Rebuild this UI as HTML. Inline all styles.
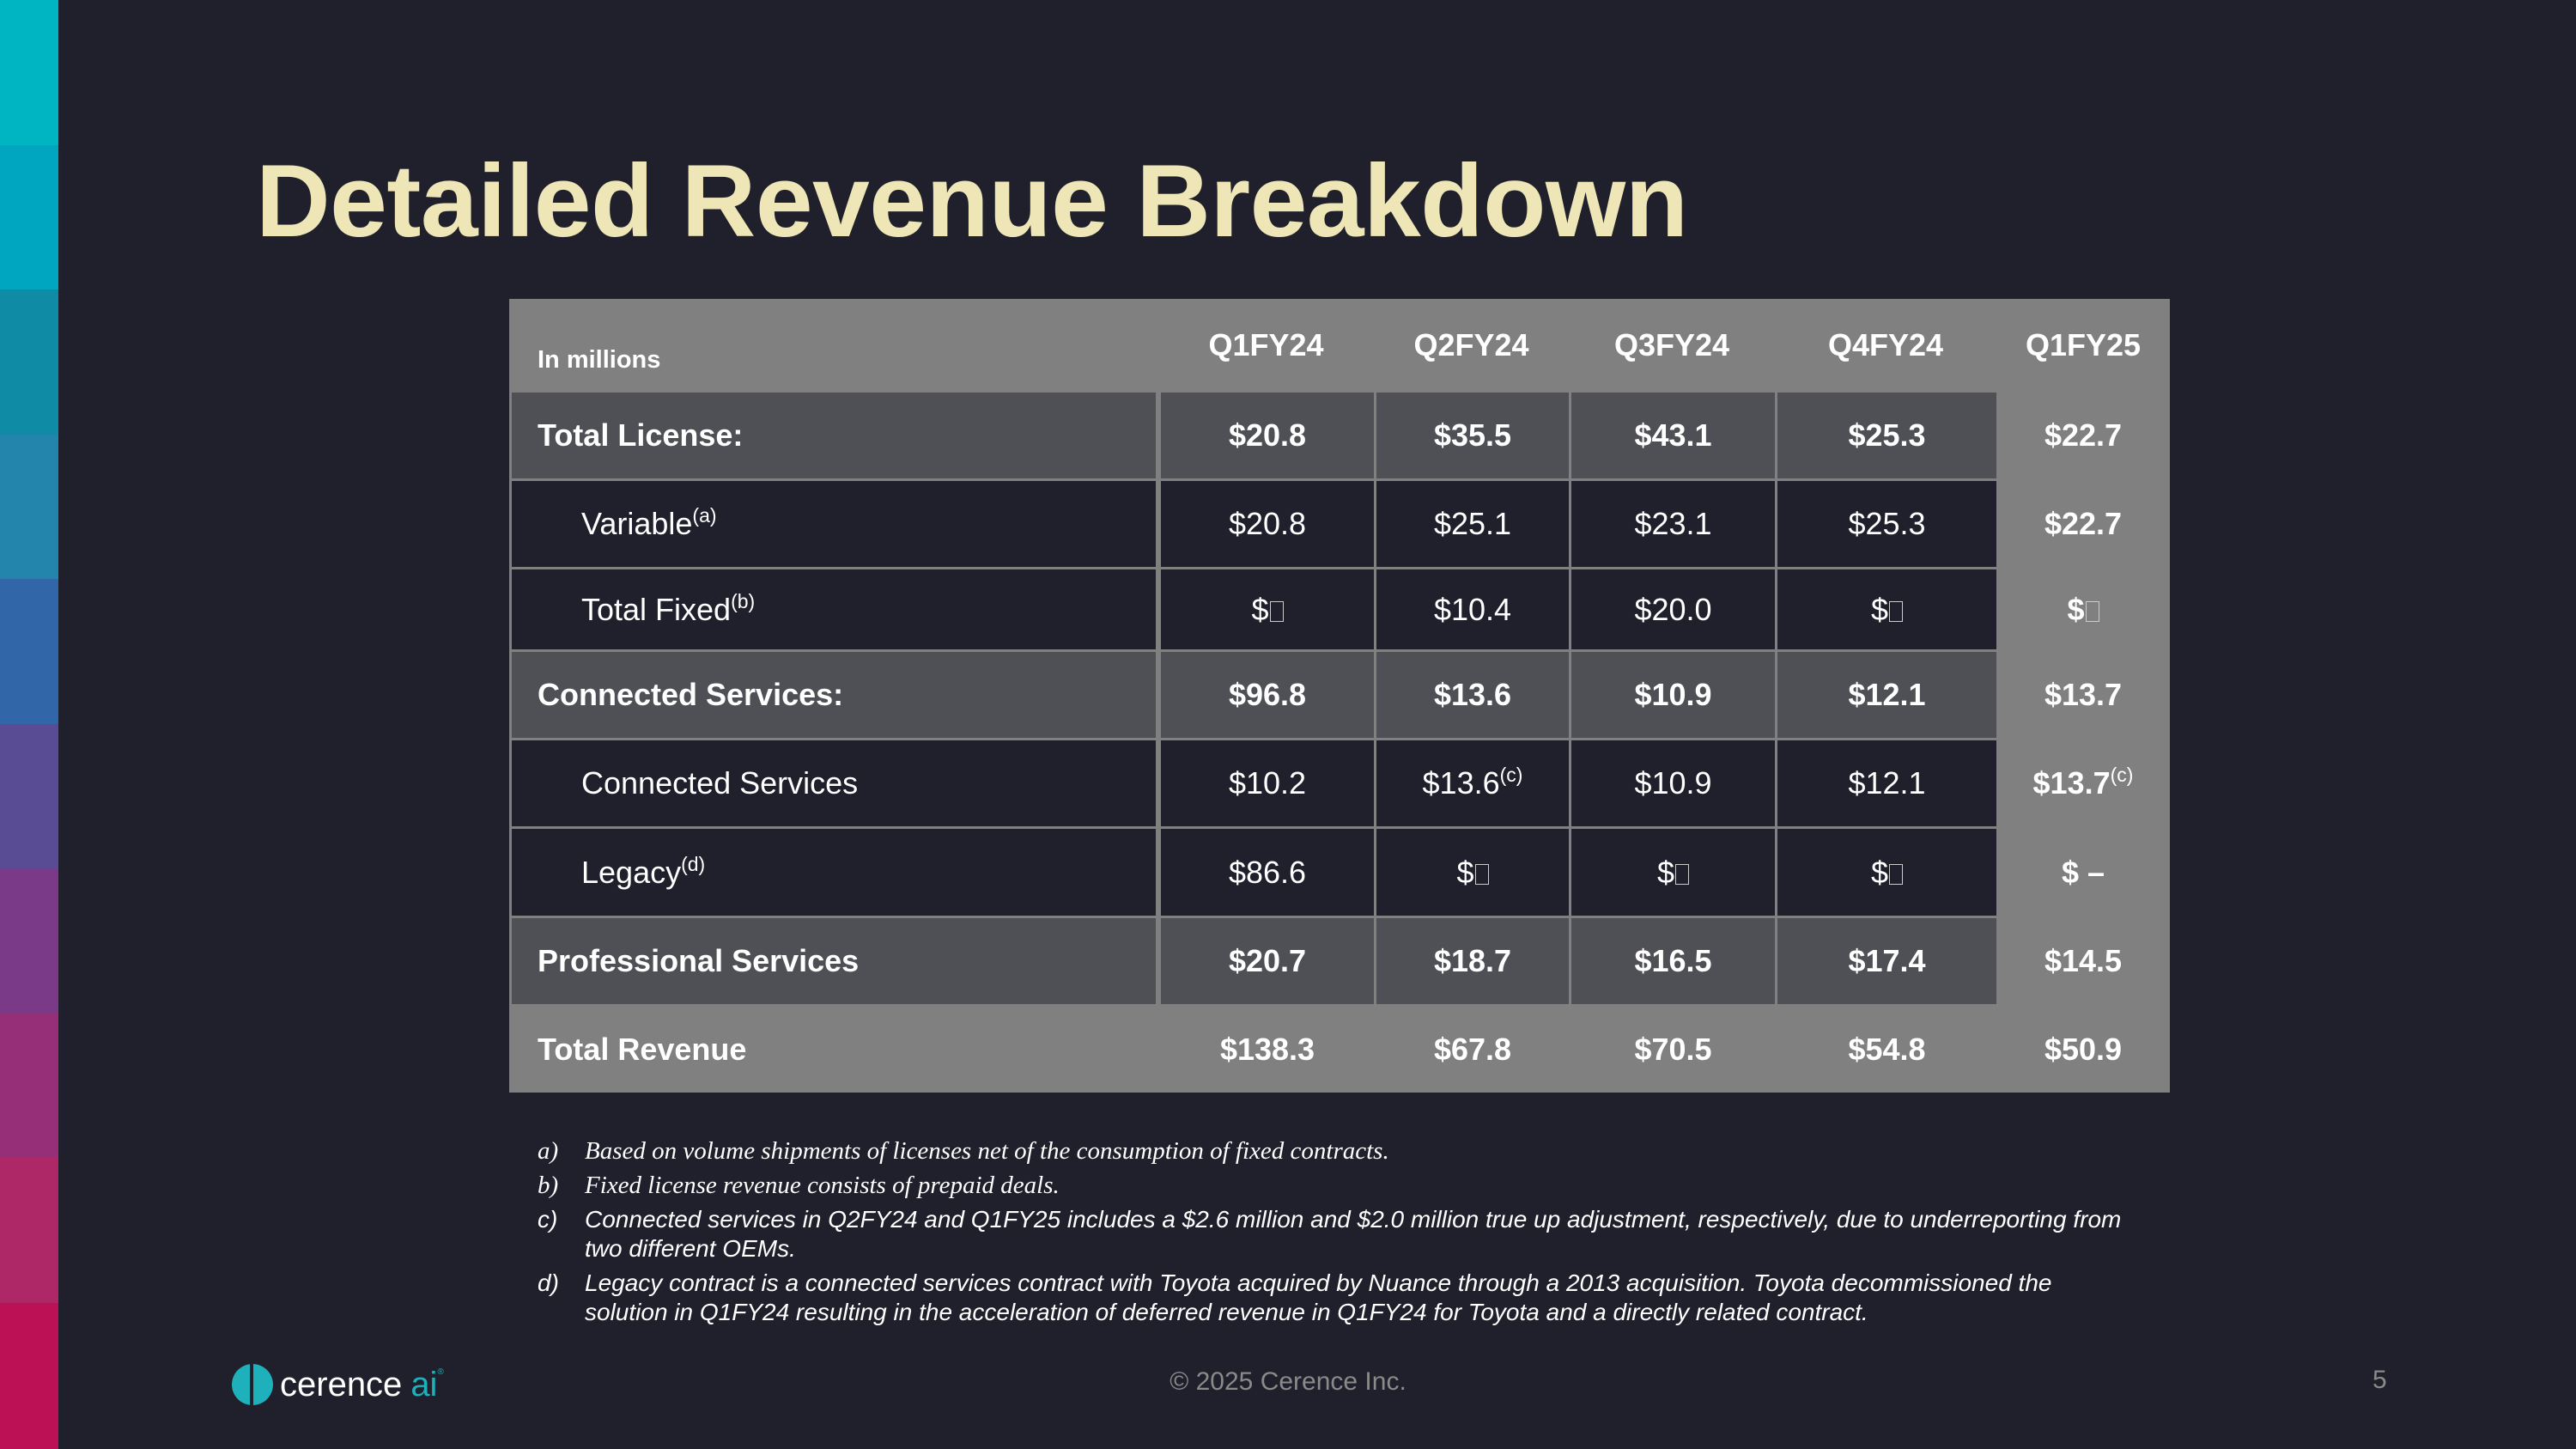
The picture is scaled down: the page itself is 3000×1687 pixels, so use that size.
<!DOCTYPE html>
<html><head><meta charset="utf-8"><style>
*{margin:0;padding:0;box-sizing:border-box}
body{width:3000px;height:1687px;background:#1f202b;position:relative;overflow:hidden;font-family:"Liberation Sans",Arial,sans-serif;color:#fff}
.strip{position:absolute;left:0;width:68px}
.title{position:absolute;left:298px;top:165px;font-size:120px;font-weight:bold;color:#efe6b7;white-space:nowrap;letter-spacing:-0.5px}
.tbl{position:absolute;left:593px;top:348px;width:1934px;height:924px;background:#808080}
.cell{position:absolute;display:flex;align-items:center;justify-content:center;font-size:36px;white-space:nowrap}
.lab{justify-content:flex-start}
.b{font-weight:bold}
sup{font-size:23px;position:relative;top:-14px;vertical-align:baseline;line-height:0;font-weight:normal}
.b sup{font-weight:normal}
.box{display:inline-block;width:16px;height:24px;border:1.5px solid #ccc;margin-left:1px;vertical-align:-2px}
.fn{position:absolute;font-size:28px;color:#fff;font-style:italic;white-space:nowrap}
.ser{font-family:"Liberation Serif",serif;font-size:29px}
</style></head><body>
<div>
<div class="strip" style="top:0;height:169px;background:#00b5c2"></div>
<div class="strip" style="top:169px;height:168px;background:#00a5bf"></div>
<div class="strip" style="top:337px;height:169px;background:#0f8ba6"></div>
<div class="strip" style="top:506px;height:168px;background:#2385ac"></div>
<div class="strip" style="top:674px;height:169px;background:#3166a8"></div>
<div class="strip" style="top:843px;height:168px;background:#5a4b95"></div>
<div class="strip" style="top:1011px;height:169px;background:#7b3a87"></div>
<div class="strip" style="top:1180px;height:168px;background:#972f78"></div>
<div class="strip" style="top:1348px;height:169px;background:#ae2767"></div>
<div class="strip" style="top:1517px;height:170px;background:#bd1156"></div>
</div>
<div class="title">Detailed Revenue Breakdown</div>
<div class="tbl" id="tbl"></div>
<div>
<div class="fn ser" style="left:626px;top:1324px">a)</div><div class="fn ser" style="left:681px;top:1324px">Based on volume shipments of licenses net of the consumption of fixed contracts.</div>
<div class="fn ser" style="left:626px;top:1364px">b)</div><div class="fn ser" style="left:681px;top:1364px">Fixed license revenue consists of prepaid deals.</div>
<div class="fn" style="left:626px;top:1404px">c)</div><div class="fn" style="left:681px;top:1404px">Connected services in Q2FY24 and Q1FY25 includes a $2.6 million and $2.0 million true up adjustment, respectively, due to underreporting from</div>
<div class="fn" style="left:681px;top:1438px">two different OEMs.</div>
<div class="fn" style="left:626px;top:1478px">d)</div><div class="fn" style="left:681px;top:1478px">Legacy contract is a connected services contract with Toyota acquired by Nuance through a 2013 acquisition. Toyota decommissioned the</div>
<div class="fn" style="left:681px;top:1512px">solution in Q1FY24 resulting in the acceleration of deferred revenue in Q1FY24 for Toyota and a directly related contract.</div>
</div>
<div style="position:absolute;left:270px;top:1587px;height:50px;display:flex;align-items:center">
<div style="width:48px;height:48px;border-radius:50%;background:#1fb1bb;position:relative"><div style="position:absolute;left:21px;top:0;width:4px;height:48px;background:#1f202b"></div></div>
<span style="font-size:40px;color:#fff;margin-left:8px;letter-spacing:0px">cerence</span><span style="font-size:40px;color:#1fb1bb;margin-left:10px">ai</span><span style="font-size:10px;color:#1fb1bb;align-self:flex-start;margin-top:5px">®</span>
</div>
<div style="position:absolute;left:1300px;width:400px;text-align:center;top:1592px;font-size:30px;color:#8a8a8a">© 2025 Cerence Inc.</div>
<div style="position:absolute;left:2763px;top:1590px;font-size:30px;color:#8a8a8a">5</div>
<script>
const cols=[0,756,1007,1234,1474,1732,1934];
const rowsY=[0,106,209,312,408,511,614,718,821,924];
const headers=["Q1FY24","Q2FY24","Q3FY24","Q4FY24","Q1FY25"];
const labels=["Total License:","Variable<sup>(a)</sup>","Total Fixed<sup>(b)</sup>","Connected Services:","Connected Services","Legacy<sup>(d)</sup>","Professional Services","Total Revenue"];
const kinds=["bold","sub","sub","bold","sub","sub","bold","total"];
const B='$<span class="box"></span>';
const values=[
["$20.8","$35.5","$43.1","$25.3","$22.7"],
["$20.8","$25.1","$23.1","$25.3","$22.7"],
[B,"$10.4","$20.0",B,B],
["$96.8","$13.6","$10.9","$12.1","$13.7"],
["$10.2","$13.6<sup>(c)</sup>","$10.9","$12.1","$13.7<sup>(c)</sup>"],
["$86.6",B,B,B,"$ –"],
["$20.7","$18.7","$16.5","$17.4","$14.5"],
["$138.3","$67.8","$70.5","$54.8","$50.9"]];
const t=document.getElementById('tbl');
function mk(x,y,w,h,bg,html,cls){const d=document.createElement('div');d.className='cell '+(cls||'');d.style.cssText=`left:${x}px;top:${y}px;width:${w}px;height:${h}px;background:${bg}`;d.innerHTML='<span>'+html+'</span>';t.appendChild(d);return d;}
const hl=mk(0,0,756,106,'transparent','In millions','lab b');
hl.style.fontSize='29px';hl.style.paddingLeft='33px';hl.style.paddingTop='36px';


headers.forEach((h,i)=>{const d=mk(cols[i+1],0,cols[i+2]-cols[i+1],106,'transparent',h,'b');d.style.paddingTop='2px';

});
labels.forEach((l,r)=>{
 const y=rowsY[r+1]+3,h=rowsY[r+2]-rowsY[r+1]-3;const k=kinds[r];
 const bg=k==='bold'?'#4f5056':(k==='sub'?'#1f202b':'transparent');
 const d=mk(3,y,cols[1]-6,h,bg,l,'lab'+(k!=='sub'?' b':''));d.style.paddingLeft=(k==='sub'?'81px':'30px');
 
 
 values[r].forEach((v,c)=>{
  const x0=cols[c+1]+(c<4?3:0),w=cols[c+2]-cols[c+1]-(c<4?3:0);
  const cb=(c===4)?'transparent':bg;
  const isb=k!=='sub'||c===4;
  const e=mk(x0,y,w,h,cb,v,isb?'b':'');
  
  
 });
});
</script>
</body></html>
